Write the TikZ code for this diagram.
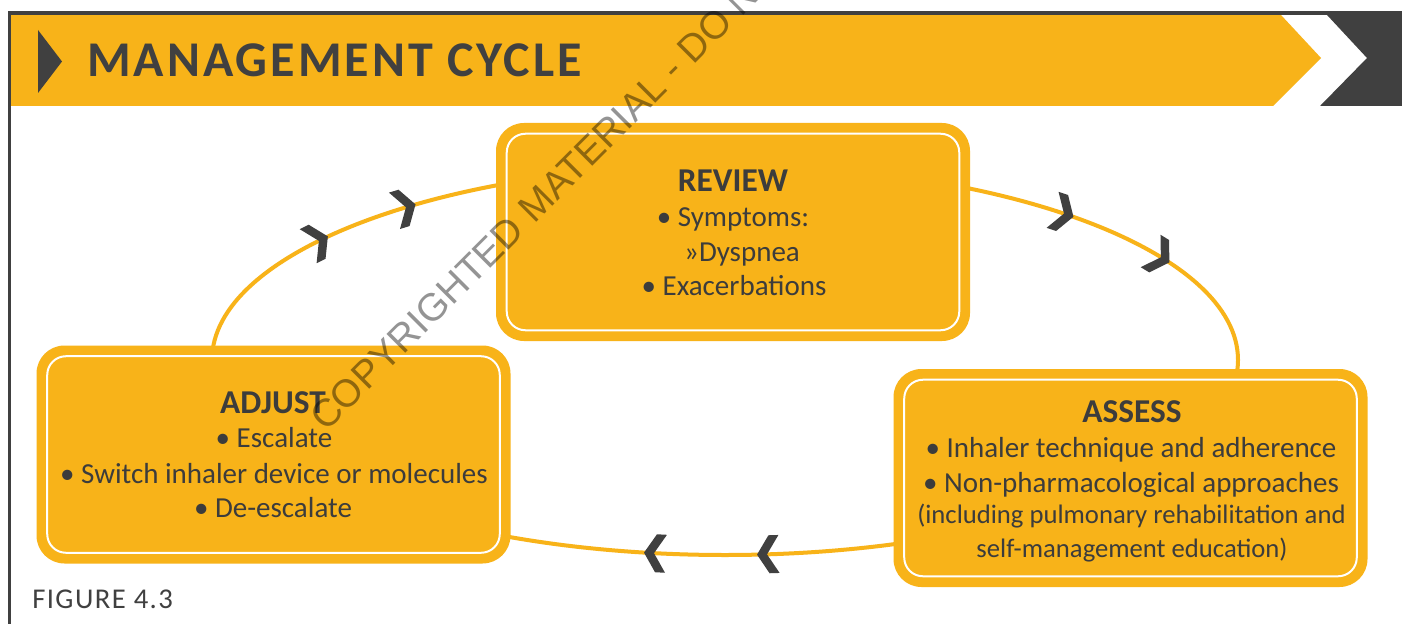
\documentclass[tikz,border=0pt]{standalone}
\usepackage{fontspec}
\setmainfont{Carlito}
\newfontfamily\wmfont{Liberation Sans}
\definecolor{gold}{HTML}{F8B319}
\definecolor{dark}{HTML}{404040}
\definecolor{txt}{HTML}{3C3C3C}
\newcommand{\mychev}[3]{\fill[dark, shift={(#1,#2)}, rotate=#3] (-11,-19) -- (-1,-19) -- (11,0) -- (-1,19) -- (-11,19) -- (1,0) -- cycle;}
\begin{document}
\begin{tikzpicture}[x=0.75pt, y=-0.75pt,
  stagebox/.style={fill=gold, rounded corners=21pt, minimum width=355.5pt, minimum height=163.5pt, inner sep=0pt},
  innerline/.style={draw=white, line width=1.5pt, rounded corners=14pt},
  ttl/.style={font=\bfseries\fontsize{25}{30}\selectfont, text=txt, anchor=base, inner sep=0pt},
  body/.style={font=\fontsize{21.75}{26}\selectfont, text=txt, anchor=base, inner sep=0pt},
  smallbody/.style={font=\fontsize{20}{24}\selectfont, text=txt, anchor=base, inner sep=0pt},
  cycleline/.style={draw=gold, line width=3pt}]
\fill[white] (0,0) rectangle (1402,624);
\useasboundingbox (0,0) rectangle (1402,624);
\clip (0,0) rectangle (1402,624);
% header
\fill[gold] (11,15) -- (1281,15) -- (1321,58) -- (1273,106) -- (11,106) -- cycle;
\fill[dark] (1327,15) -- (1402,15) -- (1402,106) -- (1320,106) -- (1367,58) -- cycle;
\fill[dark] (8,11) rectangle (1402,15);
\fill[dark] (8,11) rectangle (11,624);
\fill[dark] (38,30) -- (62,61.5) -- (38,93) -- cycle;
\node[anchor=base west, inner sep=0pt, text=dark, font=\bfseries\fontsize{37.5}{45}\selectfont\addfontfeature{LetterSpace=6}] (title) at (87,77) {MANAGEMENT CYCLE};
% cycle
\coordinate (ctr) at (725,360);
\draw[cycleline] (ctr) ellipse [x radius=513, y radius=195];
\mychev{318}{241.3}{26.4}
\mychev{405}{207.6}{16.9}
\mychev{1063}{213.3}{-18.4}
\mychev{1160}{256.7}{-31.3}
\mychev{655}{553.2}{177}
\mychev{768}{554.3}{181.8}
% boxes
\node[stagebox] (rev) at (733,232) {};
\node[stagebox] (ass) at (1130.5,478) {};
\node[stagebox] (adj) at (273.5,454.5) {};
\foreach \b in {rev,ass,adj}
  \draw[innerline] ([shift={(11,11)}]\b.north west) rectangle ([shift={(-11,-11)}]\b.south east);
% texts
\node[ttl] (rev-t) at (733,191) {REVIEW};
\node[body] (rev-1) at (733,226) {• Symptoms:};
\node[body] (rev-2) at (742,261) {»Dyspnea};
\node[body] (rev-3) at (734,295) {• Exacerbations};
\node[ttl] (ass-t) at (1132,422) {ASSESS};
\node[body] (ass-1) at (1131,457) {• Inhaler technique and adherence};
\node[body] (ass-2) at (1131,492) {• Non-pharmacological approaches};
\node[smallbody] (ass-3) at (1131.5,523) {(including pulmonary rehabilitation and};
\node[smallbody] (ass-4) at (1132,557) {self-management education)};
\node[ttl] (adj-t) at (273,413) {ADJUST};
\node[body] (adj-1) at (274,447) {• Escalate};
\node[body] (adj-2) at (274,483) {• Switch inhaler device or molecules};
\node[body] (adj-3) at (273,517) {• De-escalate};
% label
\node[anchor=base west, inner sep=0pt, text=dark, font=\fontsize{21.5}{25}\selectfont\addfontfeature{LetterSpace=5}] (fig) at (32,608) {FIGURE 4.3};
% watermark
\node[anchor=base west, inner sep=0pt, rotate=45, text=black, text opacity=0.42, font=\wmfont\fontsize{29}{34}\selectfont] (wm) at (326,433) {COPYRIGHTED MATERIAL - DO N};
\end{tikzpicture}
\end{document}
